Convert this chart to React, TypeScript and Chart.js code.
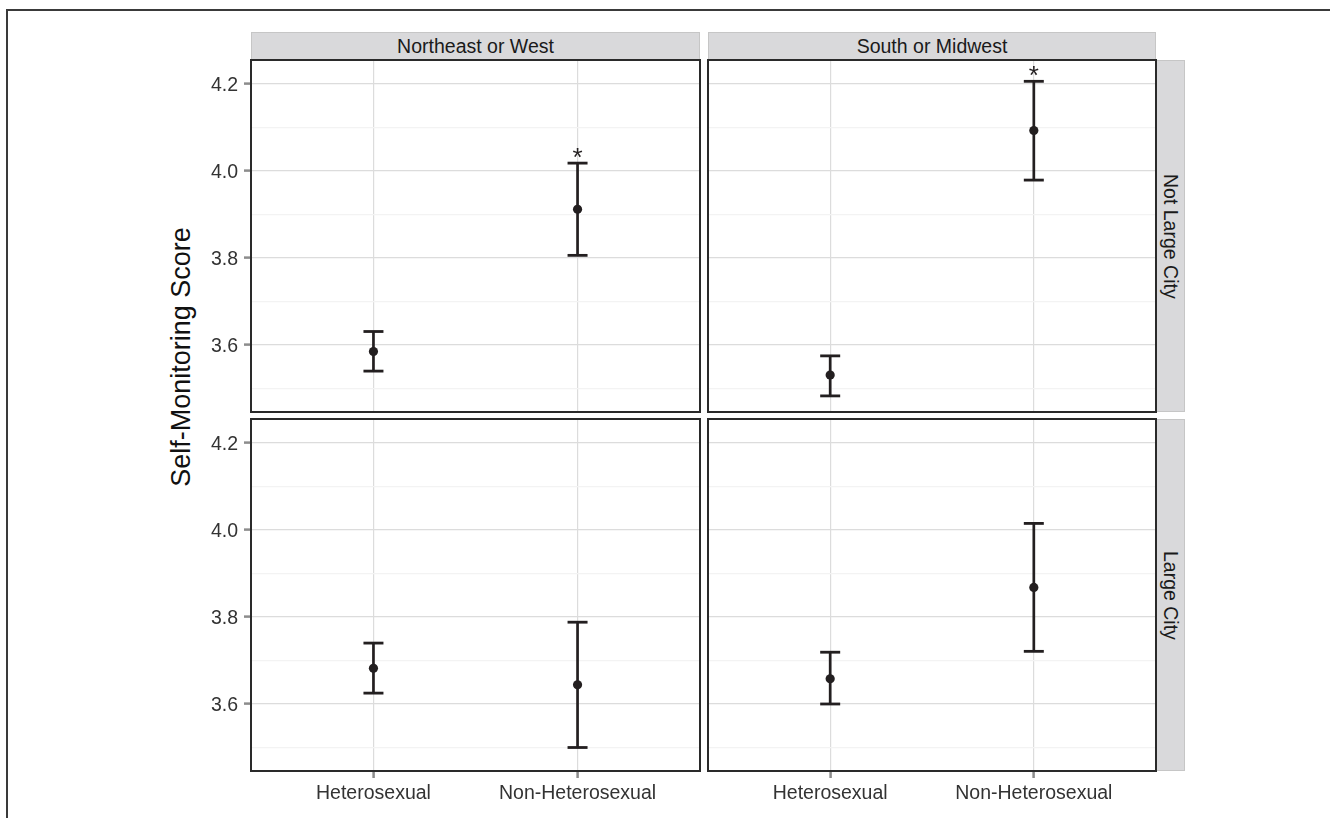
import React, { useEffect, useRef } from 'react';
import { Chart, registerables } from 'chart.js';

Chart.register(...registerables);

// ---------- data ----------
const orientations = ['Heterosexual', 'Non-Heterosexual'];
const regions = ['Northeast or West', 'South or Midwest'];
const cityTypes = ['Not Large City', 'Large City'];
const yAxisTitle = 'Self-Monitoring Score';

const yTickValues = [3.5, 3.6, 3.7, 3.8, 3.9, 4.0, 4.1, 4.2];
const yMajorTicks = [3.6, 3.8, 4.0, 4.2];
const yRange = [3.446, 4.255];
const xRange = [0.4, 2.6];

const neNotLargeMean = [3.585, 3.912];
const neNotLargeLow = [3.540, 3.806];
const neNotLargeHigh = [3.631, 4.018];
const neNotLargeSig = [false, true];

const smNotLargeMean = [3.531, 4.093];
const smNotLargeLow = [3.483, 3.979];
const smNotLargeHigh = [3.575, 4.206];
const smNotLargeSig = [false, true];

const neLargeMean = [3.682, 3.644];
const neLargeLow = [3.625, 3.500];
const neLargeHigh = [3.740, 3.788];
const neLargeSig = [false, false];

const smLargeMean = [3.658, 3.868];
const smLargeLow = [3.600, 3.721];
const smLargeHigh = [3.719, 4.015];
const smLargeSig = [false, false];

// ---------- layout ----------
const FONT = '"Liberation Sans", Arial, Helvetica, sans-serif';
const INK = '#231f20';
const COL_LEFT = [251, 708];
const COL_WIDTH = [449, 448];
const ROW_TOP = [60, 419];
const ROW_HEIGHT = 352;
const Y_AXIS_W = 70;
const X_AXIS_H = 45;
const PAD = 2;

const isMajor = (v: number) => yMajorTicks.some((m) => Math.abs(m - v) < 1e-6);

const decorPlugin = {
  id: 'panelDecor',
  afterDatasetsDraw(chart: any, _args: any, opts: any) {
    const { ctx, chartArea, scales } = chart;
    ctx.save();
    ctx.fillStyle = INK;
    ctx.font = `26px ${FONT}`;
    ctx.textAlign = 'center';
    ctx.textBaseline = 'alphabetic';
    (opts.sig || []).forEach((s: boolean, i: number) => {
      if (!s) return;
      const x = scales.x.getPixelForValue(i + 1);
      const y = scales.y.getPixelForValue(opts.high[i]);
      ctx.fillText('*', x, y + 3);
    });
    ctx.lineWidth = 2;
    ctx.strokeStyle = '#2a2a2a';
    ctx.strokeRect(chartArea.left, chartArea.top, chartArea.right - chartArea.left, chartArea.bottom - chartArea.top);
    ctx.restore();
  },
};

type PanelProps = {
  col: number;
  row: number;
  mean: number[];
  low: number[];
  high: number[];
  sig: boolean[];
};

function Panel({ col, row, mean, low, high, sig }: PanelProps) {
  const ref = useRef<HTMLCanvasElement>(null);
  const showY = col === 0;
  const showX = row === 1;
  const w = PAD * 2 + (showY ? Y_AXIS_W : 0) + COL_WIDTH[col];
  const h = PAD * 2 + ROW_HEIGHT + (showX ? X_AXIS_H : 0);
  const left = COL_LEFT[col] - PAD - (showY ? Y_AXIS_W : 0);
  const top = ROW_TOP[row] - PAD;

  useEffect(() => {
    const datasets: any[] = [
      {
        label: 'mean',
        data: mean.map((m, i) => ({ x: i + 1, y: m })),
        pointRadius: 4.6,
        pointBackgroundColor: INK,
        pointBorderWidth: 0,
        showLine: false,
      },
      {
        label: 'caps',
        data: [
          ...low.map((v, i) => ({ x: i + 1, y: v })),
          ...high.map((v, i) => ({ x: i + 1, y: v })),
        ],
        pointStyle: 'line',
        pointRadius: 10,
        pointBorderColor: INK,
        pointBorderWidth: 2.8,
        showLine: false,
      },
      ...orientations.map((_, i) => ({
        label: 'bar' + i,
        data: [
          { x: i + 1, y: low[i] },
          { x: i + 1, y: high[i] },
        ],
        showLine: true,
        borderColor: INK,
        borderWidth: 2.7,
        pointRadius: 0,
      })),
    ];

    const chart = new Chart(ref.current as HTMLCanvasElement, {
      type: 'scatter',
      data: { datasets },
      plugins: [decorPlugin],
      options: {
        responsive: false,
        animation: false,
        events: [],
        layout: { padding: PAD, autoPadding: false },
        plugins: {
          legend: { display: false },
          tooltip: { enabled: false },
          panelDecor: { sig, high },
        } as any,
        scales: {
          x: {
            type: 'linear',
            min: xRange[0],
            max: xRange[1],
            afterBuildTicks: (s: any) => {
              s.ticks = orientations.map((_, i) => ({ value: i + 1 }));
            },
            afterFit: (s: any) => {
              s.height = showX ? X_AXIS_H : 0;
              s.paddingLeft = 0;
              s.paddingRight = 0;
            },
            border: { display: false },
            grid: {
              color: '#dcdcdc',
              lineWidth: 1.2,
              drawTicks: showX,
              tickLength: 7,
              tickWidth: 2.5,
              tickColor: '#8c8c8c',
            },
            ticks: {
              display: showX,
              autoSkip: false,
              maxRotation: 0,
              padding: 4,
              color: '#333333',
              font: { family: FONT, size: 19.5 },
              callback: (v: any) => orientations[Number(v) - 1] ?? '',
            },
          },
          y: {
            type: 'linear',
            min: yRange[0],
            max: yRange[1],
            afterBuildTicks: (s: any) => {
              s.ticks = yTickValues.map((v) => ({ value: v }));
            },
            afterFit: (s: any) => {
              s.width = showY ? Y_AXIS_W : 0;
              s.paddingTop = 0;
              s.paddingBottom = 0;
            },
            border: { display: false },
            grid: {
              color: (c: any) => (isMajor(c.tick?.value) ? '#dcdcdc' : '#f3f3f3'),
              lineWidth: 1.2,
              drawTicks: showY,
              tickLength: 7,
              tickWidth: 2.5,
              tickColor: (c: any) => (isMajor(c.tick?.value) ? '#8c8c8c' : 'rgba(0,0,0,0)'),
            },
            ticks: {
              display: showY,
              autoSkip: false,
              padding: 6,
              labelOffset: 1.5,
              color: '#333333',
              font: { family: FONT, size: 19.5 },
              callback: (v: any) => (isMajor(Number(v)) ? Number(v).toFixed(1) : ''),
            },
          },
        },
      } as any,
    });
    return () => chart.destroy();
  }, []);

  return (
    <div style={{ position: 'absolute', left, top, width: w, height: h }}>
      <canvas ref={ref} width={w} height={h} style={{ display: 'block', width: w, height: h }} />
    </div>
  );
}

const stripBase: React.CSSProperties = {
  position: 'absolute',
  boxSizing: 'border-box',
  background: '#d9d9db',
  border: '1px solid #c6c6c6',
  color: '#1a1a1a',
  fontFamily: FONT,
  fontSize: 19.5,
  display: 'flex',
  alignItems: 'center',
  justifyContent: 'center',
  whiteSpace: 'nowrap',
};

export default function App() {
  const panels = [
    { col: 0, row: 0, mean: neNotLargeMean, low: neNotLargeLow, high: neNotLargeHigh, sig: neNotLargeSig },
    { col: 1, row: 0, mean: smNotLargeMean, low: smNotLargeLow, high: smNotLargeHigh, sig: smNotLargeSig },
    { col: 0, row: 1, mean: neLargeMean, low: neLargeLow, high: neLargeHigh, sig: neLargeSig },
    { col: 1, row: 1, mean: smLargeMean, low: smLargeLow, high: smLargeHigh, sig: smLargeSig },
  ];
  const rightEdge = COL_LEFT[1] + COL_WIDTH[1];
  return (
    <div style={{ position: 'absolute', left: 0, top: 0, width: 1330, height: 818, background: '#fff', overflow: 'hidden' }}>
      <div
        style={{
          position: 'absolute',
          left: 6,
          top: 9,
          width: 1330,
          height: 830,
          borderTop: '2px solid #3a3a3a',
          borderLeft: '2px solid #3a3a3a',
        }}
      />
      {regions.map((r, i) => (
        <div
          key={r}
          style={{ ...stripBase, left: COL_LEFT[i], top: 32, width: COL_WIDTH[i], height: ROW_TOP[0] - 32 }}
        >
          {r}
        </div>
      ))}
      {cityTypes.map((c, i) => (
        <div
          key={c}
          style={{
            ...stripBase,
            left: rightEdge,
            top: ROW_TOP[i],
            width: 29,
            height: ROW_HEIGHT,
            writingMode: 'vertical-rl',
          }}
        >
          {c}
        </div>
      ))}
      <div
        style={{
          position: 'absolute',
          left: 181,
          top: 357,
          transform: 'translate(-50%, -50%) rotate(-90deg)',
          fontFamily: FONT,
          fontSize: 27,
          color: '#111',
          whiteSpace: 'nowrap',
        }}
      >
        {yAxisTitle}
      </div>
      {panels.map((p) => (
        <Panel key={`${p.col}-${p.row}`} {...p} />
      ))}
    </div>
  );
}
